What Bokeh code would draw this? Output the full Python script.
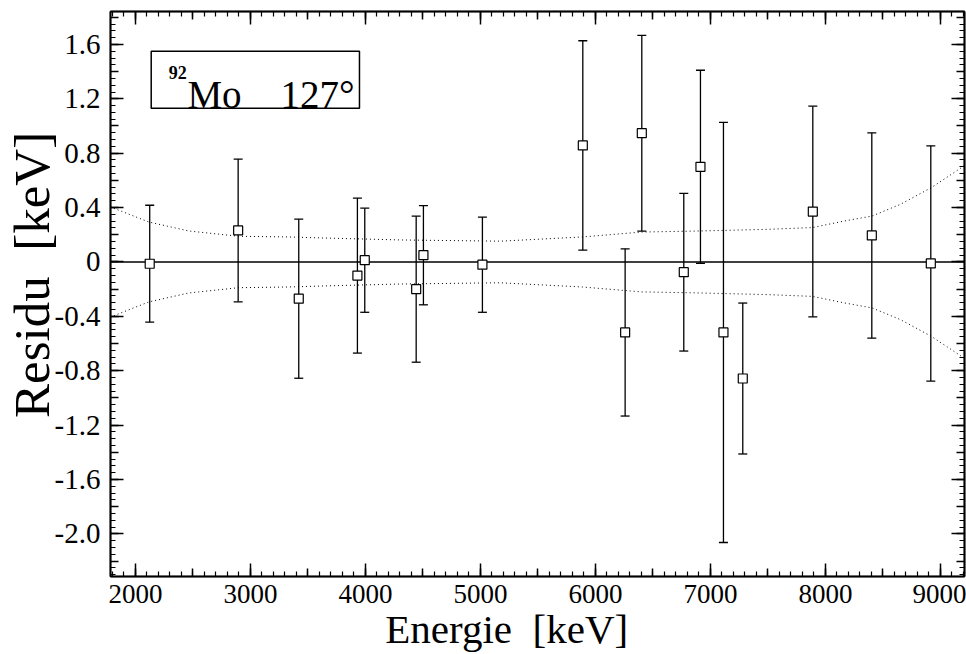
import numpy as np
from bokeh.plotting import figure
from bokeh.models import (LinearAxis, FixedTicker, Range1d, Whisker, TeeHead,
                          ColumnDataSource, Span, Label, BoxAnnotation)
from bokeh.embed import file_html
from bokeh.resources import INLINE

# ---------------- data ----------------
energy = [2124, 2893, 3420, 3930, 3994, 4441, 4504, 5017, 5890, 6258,
          6403, 6768, 6913, 7113, 7281, 7890, 8403, 8916]
residual = [-0.013, 0.232, -0.27, -0.10, 0.013, -0.20, 0.05, -0.02, 0.857, -0.518,
            0.947, -0.075, 0.70, -0.518, -0.857, 0.371, 0.195, -0.011]
error = [0.43, 0.525, 0.585, 0.57, 0.383, 0.537, 0.365, 0.35, 0.77, 0.615,
         0.72, 0.58, 0.71, 1.545, 0.555, 0.775, 0.755, 0.865]

band_energy = [1783, 1797, 2116, 2463, 2898, 3330, 3652, 4304, 5174, 5887,
               6400, 6913, 7496, 7887, 8157, 8406, 8652, 8919, 9174, 9209]
band_halfwidth = [0.41, 0.40, 0.294, 0.228, 0.189, 0.184, 0.176, 0.162, 0.153, 0.184,
                  0.22, 0.228, 0.24, 0.253, 0.30, 0.338, 0.424, 0.546, 0.689, 0.71]

x_ticks = [2000, 3000, 4000, 5000, 6000, 7000, 8000, 9000]
x_tick_labels = ["2000", "3000", "4000", "5000", "6000", "7000", "8000", "9000"]
y_ticks = [1.6, 1.2, 0.8, 0.4, 0.0, -0.4, -0.8, -1.2, -1.6, -2.0]
y_tick_labels = ["1.6", "1.2", "0.8", "0.4", "0", "-0.4", "-0.8", "-1.2", "-1.6", "-2.0"]

NBSP = "\u00a0"
# non-breaking spaces keep the wide gap and nudge the titles off-centre as in the reference
x_title = "Energie" + NBSP * 2 + "[keV]" + NBSP * 6
y_title = NBSP * 3 + "Residu" + NBSP * 2 + "[keV]"
annot_sup = "92"
annot_main = "Mo"
annot_angle = "127°"

# ---------------- layout constants ----------------
X_RANGE = (1783, 9209)
Y_RANGE = (-2.313, 1.842)
FONT = "Liberation Serif"

p = figure(width=966, height=654, output_backend="svg", toolbar_location=None,
           x_range=Range1d(*X_RANGE), y_range=Range1d(*Y_RANGE),
           x_axis_type=None, y_axis_type=None,
           min_border_left=110, min_border_right=2, min_border_top=11, min_border_bottom=78)
p.outline_line_color = "black"
p.outline_line_width = 1.5
p.background_fill_color = "white"
p.border_fill_color = "white"

x_minor = [float(v) for v in np.arange(1800, 9300, 100)]
x_medium = [float(v) for v in np.arange(1500, 9500, 500)]
y_minor = [round(float(v), 3) for v in np.arange(-2.30, 1.86, 0.05)]
y_medium = [round(float(v), 3) for v in np.arange(-2.2, 1.81, 0.2)]


def make_axis(ticks, minor, major_in, minor_in, labels=None, title=None,
              label_standoff=0, title_standoff=0, title_size="42px", label_size="28px"):
    ax = LinearAxis(ticker=FixedTicker(ticks=ticks, minor_ticks=minor))
    ax.major_tick_in = major_in
    ax.major_tick_out = 0
    ax.minor_tick_in = minor_in
    ax.minor_tick_out = 0
    ax.major_tick_line_width = 1.5
    ax.minor_tick_line_width = 1.2
    ax.major_tick_line_color = "black"
    ax.minor_tick_line_color = "black"
    ax.axis_line_color = "black"
    ax.axis_line_width = 1.5
    ax.major_label_standoff = label_standoff
    if labels is None:
        ax.major_label_text_font_size = "0px"
        ax.major_label_text_color = None
    else:
        ax.major_label_overrides = {t: l for t, l in zip(ticks, labels)}
        ax.major_label_text_font = FONT
        ax.major_label_text_font_size = label_size
        ax.major_label_text_color = "black"
    if title is not None:
        ax.axis_label = title
        ax.axis_label_text_font = FONT
        ax.axis_label_text_font_size = title_size
        ax.axis_label_text_font_style = "normal"
        ax.axis_label_text_color = "black"
        ax.axis_label_standoff = title_standoff
    return ax


# bottom: medium ticks innermost, then labelled main axis
p.add_layout(make_axis(x_medium, [], 8, 0), "below")
p.add_layout(make_axis([float(t) for t in x_ticks], x_minor, 13, 5, labels=x_tick_labels,
                       title=x_title, label_standoff=8, title_standoff=0, title_size="41px",
                       label_size="27px"), "below")
# top
p.add_layout(make_axis(x_medium, [], 8, 0), "above")
p.add_layout(make_axis([float(t) for t in x_ticks], x_minor, 13, 5), "above")
# left
p.add_layout(make_axis(y_medium, [], 8, 0), "left")
p.add_layout(make_axis(y_ticks, y_minor, 13, 5, labels=y_tick_labels,
                       title=y_title, label_standoff=10, title_standoff=-8, title_size="51px",
                       label_size="29px"), "left")
# right
p.add_layout(make_axis(y_medium, [], 8, 0), "right")
p.add_layout(make_axis(y_ticks, y_minor, 13, 5), "right")

# zero line
p.add_layout(Span(location=0, dimension="width", line_color="black", line_width=1.3, level="underlay"))

# uncertainty band (dotted)
p.line(band_energy, band_halfwidth, line_color="black", line_width=1, line_dash="1 3")
p.line(band_energy, [-v for v in band_halfwidth], line_color="black", line_width=1, line_dash="1 3")

# error bars
src = ColumnDataSource(dict(
    x=energy, y=residual,
    upper=[r + e for r, e in zip(residual, error)],
    lower=[r - e for r, e in zip(residual, error)],
))
wh = Whisker(source=src, base="x", upper="upper", lower="lower",
             line_color="black", line_width=1.3, level="underlay",
             upper_head=TeeHead(size=9, line_color="black", line_width=1.3),
             lower_head=TeeHead(size=9, line_color="black", line_width=1.3))
p.add_layout(wh)

p.scatter("x", "y", source=src, marker="square", size=9,
          fill_color="white", line_color="black", line_width=1.2)

# annotation box (data-unit placement constants)
p.add_layout(BoxAnnotation(left=2137, right=3948, bottom=1.131, top=1.55,
                           fill_color="white", fill_alpha=1.0,
                           line_color="black", line_alpha=1.0, line_width=1.5,
                           level="overlay"))
p.add_layout(Label(x=2290, y=1.39, text=annot_sup, text_font=FONT, text_font_size="18px",
                   text_font_style="bold", text_color="black", text_baseline="alphabetic",
                   level="overlay"))
p.add_layout(Label(x=2452, y=1.232, text=annot_main, text_font=FONT, text_font_size="39px",
                   text_color="black", text_baseline="alphabetic", level="overlay"))
p.add_layout(Label(x=3261, y=1.232, text=annot_angle, text_font=FONT, text_font_size="39px",
                   text_color="black", text_baseline="alphabetic", level="overlay"))

open("out.html", "w").write(file_html(p, INLINE))
